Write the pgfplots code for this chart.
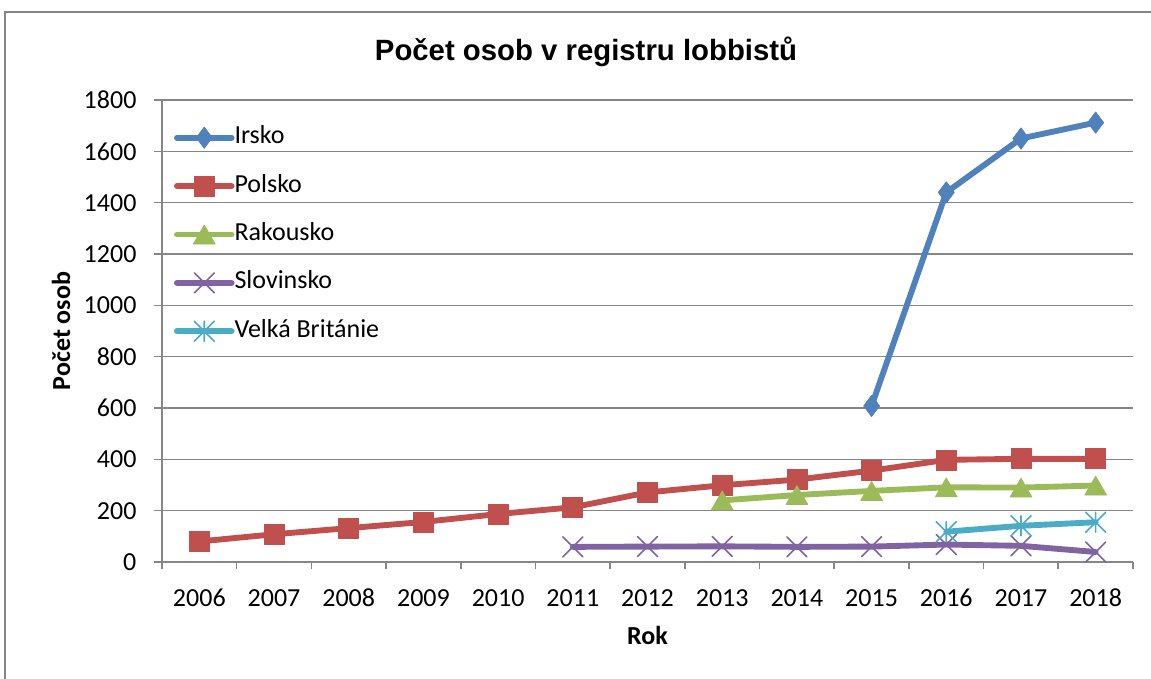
\documentclass[border=0pt]{standalone}
\usepackage{fontspec}
\setmainfont{Carlito}
\newfontfamily\titlefont{Liberation Sans}
\usepackage{pgfplots}
\pgfplotsset{compat=1.18}

\definecolor{cIrsko}{HTML}{4F81BD}
\definecolor{cPolsko}{HTML}{C0504D}
\definecolor{cRak}{HTML}{9BBB59}
\definecolor{cSlo}{HTML}{8064A2}
\definecolor{cVB}{HTML}{4BACC6}
\definecolor{axgray}{HTML}{868686}

\pgfdeclareplotmark{xcross}{%
  \pgfpathmoveto{\pgfqpoint{-\pgfplotmarksize}{-\pgfplotmarksize}}%
  \pgfpathlineto{\pgfqpoint{\pgfplotmarksize}{\pgfplotmarksize}}%
  \pgfpathmoveto{\pgfqpoint{-\pgfplotmarksize}{\pgfplotmarksize}}%
  \pgfpathlineto{\pgfqpoint{\pgfplotmarksize}{-\pgfplotmarksize}}%
  \pgfusepathqstroke}
\pgfdeclareplotmark{xstar}{%
  \pgfpathmoveto{\pgfqpoint{-\pgfplotmarksize}{-\pgfplotmarksize}}%
  \pgfpathlineto{\pgfqpoint{\pgfplotmarksize}{\pgfplotmarksize}}%
  \pgfpathmoveto{\pgfqpoint{-\pgfplotmarksize}{\pgfplotmarksize}}%
  \pgfpathlineto{\pgfqpoint{\pgfplotmarksize}{-\pgfplotmarksize}}%
  \pgfpathmoveto{\pgfqpoint{0pt}{-\pgfplotmarksize}}%
  \pgfpathlineto{\pgfqpoint{0pt}{\pgfplotmarksize}}%
  \pgfusepathqstroke}

\newcommand{\tickfont}{\fontsize{19.5}{23}\selectfont}

\begin{document}
\begin{tikzpicture}
\useasboundingbox (-121.5pt,-87pt) rectangle (741.75pt,421.5pt);
\draw[axgray, line width=1.5pt] (-117.75pt,-90pt) -- (-117.75pt,412.5pt) -- (745pt,412.5pt);
\node[anchor=base, font=\titlefont\bfseries\fontsize{22}{26}\selectfont] at (318pt,375.75pt) {Počet osob v registru lobbistů};
\begin{axis}[
  at={(0pt,0pt)}, anchor=south west,
  scale only axis,
  width=728.25pt, height=346.5pt,
  xmin=2005.5, xmax=2018.5,
  ymin=0, ymax=1800,
  xtick={2006,2007,2008,2009,2010,2011,2012,2013,2014,2015,2016,2017,2018},
  minor xtick={2005.5,2006.5,...,2018.5},
  ytick={0,200,...,1800},
  axis x line=bottom, axis y line=left,
  axis line style={axgray, line width=1.2pt, -},
  major x tick style={draw=none},
  minor x tick style={axgray, line width=1.2pt},
  y tick style={axgray, line width=1.2pt},
  tick align=outside,
  major tick length=6pt, minor tick length=5.5pt,
  ymajorgrids,
  grid style={axgray, line width=1.2pt},
  /pgf/number format/1000 sep={},
  /pgf/number format/assume math mode=true,
  tick label style={font=\tickfont},
  yticklabel style={anchor=east, inner sep=0pt, xshift=-13pt},
  xticklabel style={anchor=north, inner sep=0pt, text height=12.5pt, yshift=-14.5pt},
  xlabel={Rok}, ylabel={Počet osob},
  xlabel style={font=\tickfont\bfseries, at={(axis description cs:0.5,0)}, anchor=base, yshift=-61.5pt},
  ylabel style={font=\tickfont\bfseries, at={(axis description cs:-0.0947,0.5)}, anchor=base},
  clip=false,
  legend style={at={(axis description cs:0,1)}, anchor=north west,
    xshift=9pt, yshift=-19.75pt,
    draw=none, fill=none, inner sep=0pt, outer sep=0pt,
    font=\tickfont, row sep=19.3pt,
    nodes={inner sep=0pt, text height=13pt, text depth=4pt},
    /tikz/every even column/.append style={column sep=0.5pt}},
  legend cell align=left,
  legend image code/.code={\draw[mark repeat=2, mark phase=2] plot coordinates {(0pt,0pt) (20.5pt,0pt) (41pt,0pt)};},
  every axis plot/.append style={line width=4.4pt, line join=round, line cap=round},
]
\addplot[color=cIrsko, mark=diamond*, mark size=8pt, mark options={solid, line width=0.5pt}] coordinates {
 (2015,608) (2016,1440) (2017,1650) (2018,1712)};
\addlegendentry{Irsko}
\addplot[color=cPolsko, mark=square*, mark size=7.5pt, mark options={solid, line width=0.5pt}] coordinates {
 (2006,80) (2007,108) (2008,132) (2009,156) (2010,187) (2011,213) (2012,271) (2013,299) (2014,321) (2015,356) (2016,398) (2017,402) (2018,402)};
\addlegendentry{Polsko}
\addplot[color=cRak, mark=triangle*, mark size=9.5pt, mark options={solid, line width=0.5pt, yshift=-2.4pt}] coordinates {
 (2013,240) (2014,261) (2015,277) (2016,291) (2017,290) (2018,298)};
\addlegendentry{Rakousko}
\addplot[color=cSlo, mark=xcross, mark size=7.5pt, mark options={solid, line width=1.2pt}] coordinates {
 (2011,59) (2012,60) (2013,61) (2014,59) (2015,60) (2016,68) (2017,63) (2018,39)};
\addlegendentry{Slovinsko}
\addplot[color=cVB, mark=xstar, mark size=7.5pt, mark options={solid, line width=1.2pt}] coordinates {
 (2016,118) (2017,141) (2018,155)};
\addlegendentry{Velká Británie}
\end{axis}
\end{tikzpicture}
\end{document}
